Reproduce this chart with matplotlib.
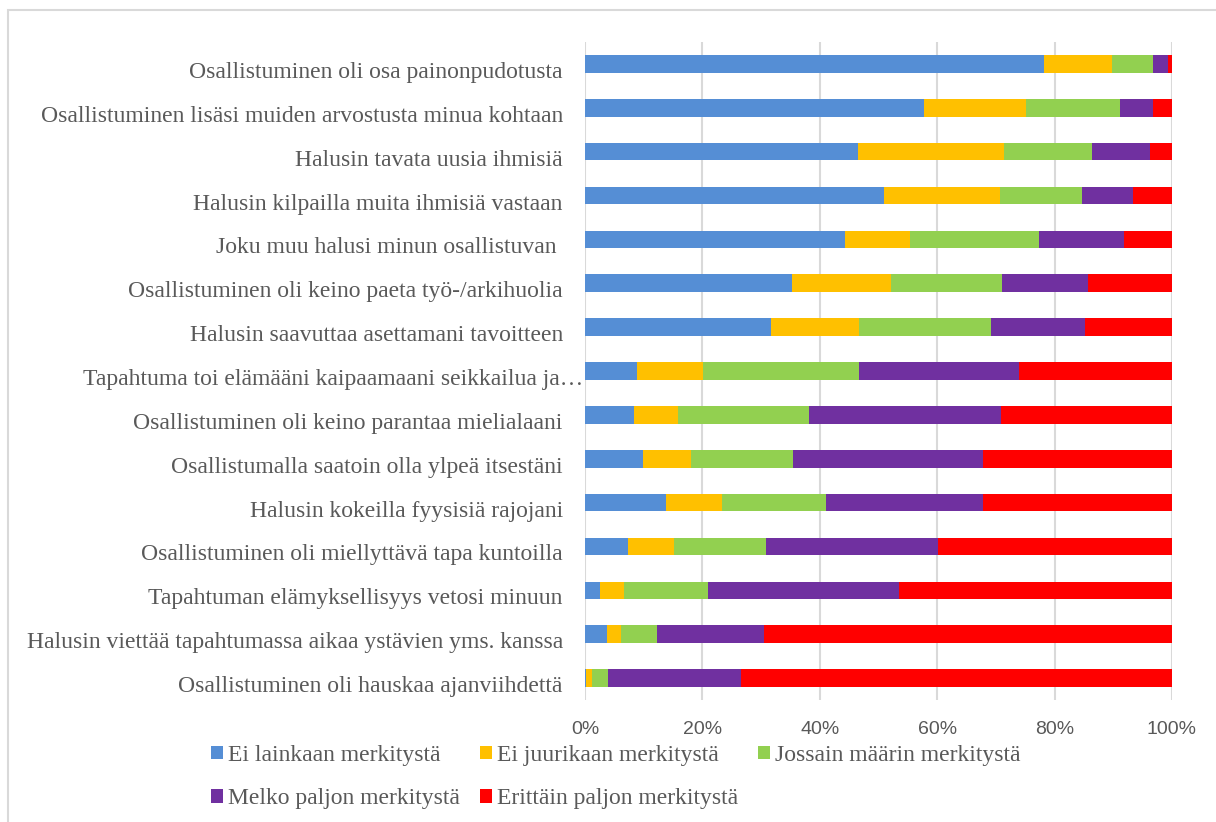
import matplotlib.pyplot as plt
from matplotlib.patches import Rectangle
from matplotlib.transforms import ScaledTranslation
import numpy as np

# Categories, top to bottom as in the chart
categories = [
    "Osallistuminen oli osa painonpudotusta",
    "Osallistuminen lisäsi muiden arvostusta minua kohtaan",
    "Halusin tavata uusia ihmisiä",
    "Halusin kilpailla muita ihmisiä vastaan",
    "Joku muu halusi minun osallistuvan ",
    "Osallistuminen oli keino paeta työ-/arkihuolia",
    "Halusin saavuttaa asettamani tavoitteen",
    "Tapahtuma toi elämääni kaipaamaani seikkailua ja…",
    "Osallistuminen oli keino parantaa mielialaani",
    "Osallistumalla saatoin olla ylpeä itsestäni",
    "Halusin kokeilla fyysisiä rajojani",
    "Osallistuminen oli miellyttävä tapa kuntoilla",
    "Tapahtuman elämyksellisyys vetosi minuun",
    "Halusin viettää tapahtumassa aikaa ystävien yms. kanssa",
    "Osallistuminen oli hauskaa ajanviihdettä",
]

series_names = [
    "Ei lainkaan merkitystä",
    "Ei juurikaan merkitystä",
    "Jossain määrin merkitystä",
    "Melko paljon merkitystä",
    "Erittäin paljon merkitystä",
]

# percentages per category (same order as categories)
ei_lainkaan = [78.2, 57.8, 46.5, 50.9, 44.3, 35.2, 31.7, 8.8, 8.4, 9.8, 13.8, 7.4, 2.5, 3.8, 0.2]
ei_juurikaan = [11.6, 17.4, 24.8, 19.8, 11.1, 17.0, 15.0, 11.3, 7.5, 8.3, 9.5, 7.8, 4.2, 2.4, 1.0]
jossain = [7.0, 16.0, 15.0, 13.9, 21.9, 18.9, 22.4, 26.6, 22.2, 17.3, 17.7, 15.6, 14.3, 6.1, 2.8]
melko = [2.5, 5.6, 10.0, 8.7, 14.6, 14.6, 16.0, 27.2, 32.8, 32.4, 26.8, 29.4, 32.5, 18.2, 22.6]
erittain = [0.7, 3.2, 3.7, 6.7, 8.1, 14.3, 14.9, 26.1, 29.1, 32.2, 32.2, 39.8, 46.5, 69.5, 73.4]

colors = ["#558ED5", "#FFC000", "#92D050", "#7030A0", "#FF0000"]

fig = plt.figure(figsize=(12.16, 8.22), dpi=100)
ax = fig.add_axes([585 / 1216, 1 - 700 / 822, 587 / 1216, 658 / 822])

# chart border like the spreadsheet chart area
fig.patches.append(Rectangle((8 / 1216, -0.01), 1.0, 1 - 10 / 822 + 0.01,
                             transform=fig.transFigure, fill=False,
                             edgecolor="#d9d9d9", linewidth=1.5))

data = np.array([ei_lainkaan, ei_juurikaan, jossain, melko, erittain])
data = data / data.sum(axis=0) * 100
y = np.arange(len(categories))
left = np.zeros(len(categories))
for vals, name, col in zip(data, series_names, colors):
    ax.barh(y, vals, left=left, height=0.4, color=col, label=name, zorder=3)
    left += vals

ax.set_xlim(0, 100)
ax.set_ylim(len(categories) - 0.5, -0.5)
ax.set_xticks([0, 20, 40, 60, 80, 100])
ax.set_xticklabels(["0%", "20%", "40%", "60%", "80%", "100%"],
                   fontfamily="Liberation Sans", fontsize=14, color="#595959")
ax.set_yticks(y)
ax.set_yticklabels(categories, fontfamily="Liberation Serif", fontsize=17, color="#595959")
ax.tick_params(axis="both", length=0)
ax.tick_params(axis="y", pad=16)
ax.tick_params(axis="x", pad=15)
# the truncated label reaches further right in the original
ax.yaxis.get_major_ticks()[7].set_pad(1)
# labels sit a little below the bar centres in the original
shift = ScaledTranslation(0, -6 / 100, fig.dpi_scale_trans)
for tick in ax.yaxis.get_major_ticks():
    tick.label1.set_transform(tick.label1.get_transform() + shift)

ax.grid(axis="x", color="#d9d9d9", linewidth=1.5, zorder=0)
for s in ax.spines.values():
    s.set_visible(False)

handles, labels = ax.get_legend_handles_labels()
order = [0, 3, 1, 4, 2]
fig.legend([handles[i] for i in order], [labels[i] for i in order],
           loc="upper left", bbox_to_anchor=(211 / 1216, 1 - 745 / 822),
           ncol=3, frameon=False, handlelength=0.5, handleheight=0.5,
           handletextpad=0.22, columnspacing=0.85, labelspacing=0.95,
           prop={"family": "Liberation Serif", "size": 17},
           labelcolor="#595959", borderpad=0, borderaxespad=0)

fig.savefig("out.png", dpi=100)
